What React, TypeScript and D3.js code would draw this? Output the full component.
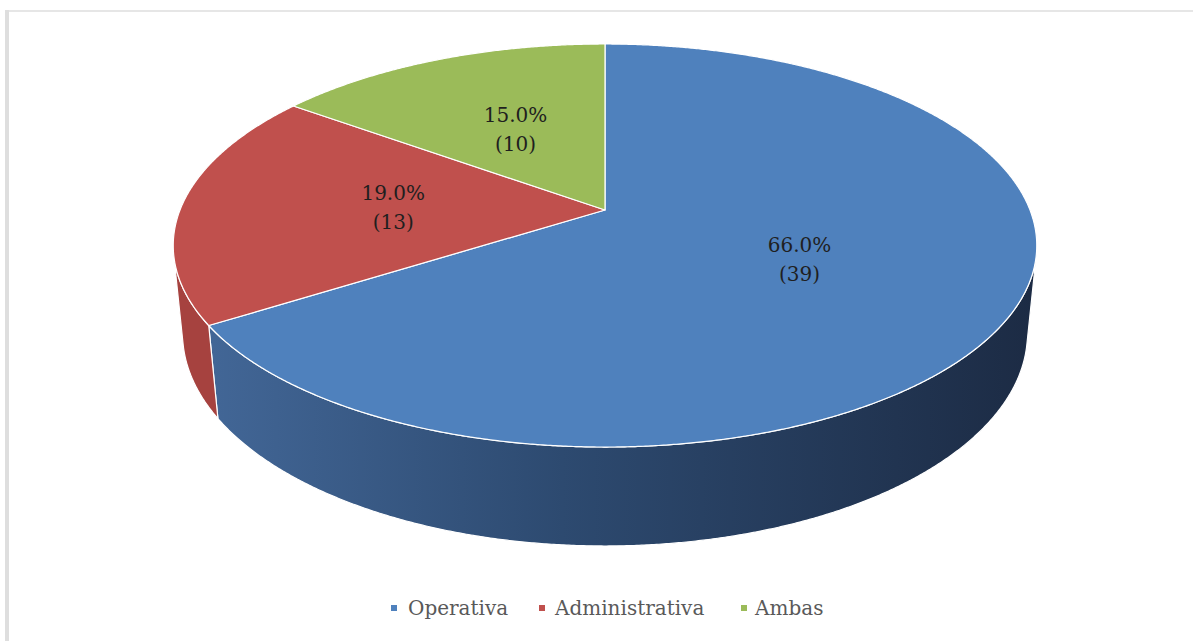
import React from 'react';
import * as d3 from 'd3';

const categories = ['Operativa', 'Administrativa', 'Ambas'];
const percents = [66.0, 19.0, 15.0];
const counts = [39, 13, 10];
const topColors = ['#4F81BD', '#C0504D', '#9BBB59'];
const wallColors = ['url(#blueWall)', '#A6423F', '#7F9A48'];

const W = 1193;
const H = 641;
const CX = 605;
const CY = 210;
const F = 2142;
const L = 5.04;
const PHI = (27.35 * Math.PI) / 180;
const DEPTH = 0.235;
const SN = Math.sin(PHI);
const CS = Math.cos(PHI);
const FONT = "'DejaVu Serif', Cambria, serif";

function project(x: number, y: number, z: number): [number, number] {
  const d = L - y * SN - z * CS;
  const up = y * CS - z * SN;
  return [CX + (F * x) / d, CY - (F * up) / d];
}

function diskPoint(a: number, r: number, y: number): [number, number] {
  return project(r * Math.sin(a), y, -r * Math.cos(a));
}

function arcPoints(a0: number, a1: number, y: number): [number, number][] {
  const n = Math.max(2, Math.ceil(Math.abs(a1 - a0) / 0.005));
  const pts: [number, number][] = [];
  for (let i = 0; i <= n; i++) {
    const a = a0 + ((a1 - a0) * i) / n;
    pts.push(diskPoint(a, 1, y));
  }
  return pts;
}

const line = d3.line<[number, number]>().x((d) => d[0]).y((d) => d[1]);

export default function App() {
  const pie = d3
    .pie<number>()
    .sort(null)
    .startAngle(0)
    .endAngle(2 * Math.PI)(percents);

  const k = 1 / (L * CS);
  const vis0 = Math.acos(-k);
  const vis1 = 2 * Math.PI - vis0;

  const walls = pie
    .map((p, i) => {
      const a0 = Math.max(p.startAngle, vis0);
      const a1 = Math.min(p.endAngle, vis1);
      if (a1 <= a0) return null;
      const top = arcPoints(a0, a1, 0);
      const bot = arcPoints(a1, a0, -DEPTH);
      return { i, d: line([...top, ...bot])! + 'Z' };
    })
    .filter(Boolean) as { i: number; d: string }[];

  const tops = pie.map((p, i) => {
    const pts = [project(0, 0, 0), ...arcPoints(p.startAngle, p.endAngle, 0)];
    return { i, d: line(pts)! + 'Z' };
  });

  const labels = pie.map((p, i) => {
    const mid = (p.startAngle + p.endAngle) / 2;
    const [x, y] = diskPoint(mid, 0.5, 0);
    return { i, x, y };
  });

  const legendItems = [
    { mx: 391, tx: 408 },
    { mx: 539, tx: 555 },
    { mx: 741, tx: 755 },
  ];
  const legendY = 608;

  return (
    <div style={{ position: 'fixed', left: 0, top: 0 }}>
      <svg width={W} height={H} style={{ display: 'block', background: '#fff' }}>
        <defs>
          <linearGradient id="blueWall" gradientUnits="userSpaceOnUse" x1={176} y1={0} x2={1035} y2={0}>
            <stop offset="0" stopColor="#44699A" />
            <stop offset="0.45" stopColor="#2D4A70" />
            <stop offset="1" stopColor="#1C2B44" />
          </linearGradient>
        </defs>
        <rect x={5} y={10} width={W - 5} height={2} fill="#E6E6E6" />
        <rect x={5} y={10} width={4} height={H - 10} fill="#DEDEDE" />
        <g>
          {walls.map((w) => (
            <path key={'w' + w.i} d={w.d} fill={wallColors[w.i]} stroke="#fff" strokeWidth={1.2} strokeLinejoin="round" />
          ))}
          {tops.map((t) => (
            <path key={'t' + t.i} d={t.d} fill={topColors[t.i]} stroke="#fff" strokeWidth={1.2} strokeLinejoin="round" />
          ))}
        </g>
        <g fontFamily={FONT} fontSize={20} fill="#1F1F1F" textAnchor="middle">
          {labels.map((l) => (
            <text key={'l' + l.i} x={l.x} y={l.y}>
              <tspan x={l.x} dy={-7}>{percents[l.i].toFixed(1) + '%'}</tspan>
              <tspan x={l.x} dy={29}>{'(' + counts[l.i] + ')'}</tspan>
            </text>
          ))}
        </g>
        <g fontFamily={FONT} fontSize={20} fill="#595959">
          {categories.map((c, i) => (
            <g key={'lg' + i}>
              <rect x={legendItems[i].mx} y={legendY - 3} width={6} height={6} fill={topColors[i]} />
              <text x={legendItems[i].tx} y={legendY} dominantBaseline="central">{c}</text>
            </g>
          ))}
        </g>
      </svg>
    </div>
  );
}
